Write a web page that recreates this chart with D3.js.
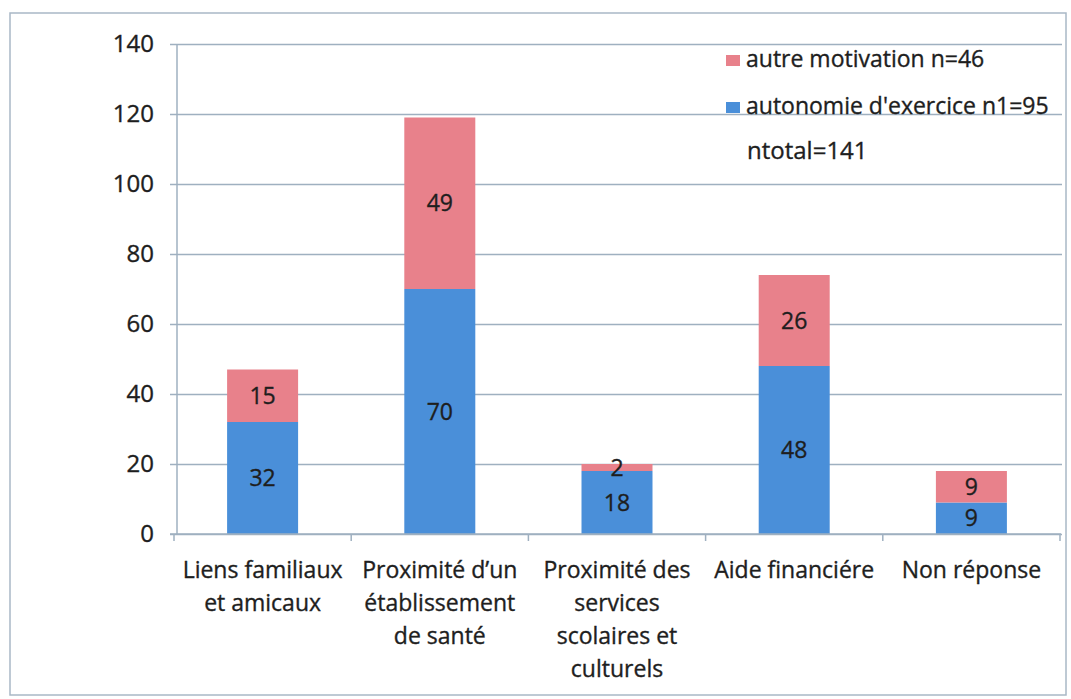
<!DOCTYPE html>
<html lang="fr">
    <head>
        <meta charset="utf-8">
        <title>Motivations</title>
        <script src="https://d3js.org/d3.v7.min.js"></script>
        <style>
            body { margin: 0; background: #fff; }
            svg#chart { font-family: "Open Sans", sans-serif; }
            svg#chart text { stroke: #1e1e1e; stroke-width: 0.35px; }
        </style>
    </head>
    <body>
        <svg id="chart" width="1071" height="699"></svg>
        <script type="text/javascript">
            // data
            const categories = [
                ["Liens familiaux", "et amicaux"],
                ["Proximité d’un", "établissement", "de santé"],
                ["Proximité des", "services", "scolaires et", "culturels"],
                ["Aide financiére"],
                ["Non réponse"]
            ];
            const autonomie = [32, 70, 18, 48, 9];
            const autre = [15, 49, 2, 26, 9];
            const legendLabels = ["autre motivation n=46", "autonomie d'exercice n1=95"];
            const noteText = "ntotal=141";
            const yTicks = [0, 20, 40, 60, 80, 100, 120, 140];

            const blue = "#4a8fd9";
            const pink = "#e8818b";
            const gridColor = "#9fb0c0";

            var svg = d3.select('#chart');

            // outer frame of the scanned chart
            svg.append("rect")
                .attr("x", 10).attr("y", 13)
                .attr("width", 1056).attr("height", 682)
                .attr("fill", "none").attr("stroke", "#a9b8c6").attr("stroke-width", 1.5);

            let rows = categories.map(function(c, i){
                return {key: i, autonomie: autonomie[i], autre: autre[i]};
            });

            let x = d3.scaleBand().domain(d3.range(categories.length)).range([174, 1060]).paddingInner(0).paddingOuter(0);
            let y = d3.scaleLinear().domain([0, 140]).range([534, 44]);

            // gridlines
            let yAxis = d3.axisLeft(y).tickValues(yTicks).tickSize(-(1062 - 170)).tickPadding(16);
            let gy = svg.append("g")
                .attr("transform", "translate(170,0)")
                .call(yAxis);
            gy.select(".domain").remove();
            gy.selectAll(".tick line").attr("stroke", gridColor).attr("stroke-width", 1.5);
            gy.selectAll(".tick text")
                .attr("font-size", 24).attr("fill", "#1e1e1e")
                .attr("font-family", "Open Sans, sans-serif");

            // y axis line
            svg.append("line")
                .attr("x1", 177).attr("x2", 177)
                .attr("y1", y(140)).attr("y2", y(0))
                .attr("stroke", gridColor).attr("stroke-width", 1.5);

            // stacked bars
            let stack = d3.stack().keys(["autonomie", "autre"]);
            let series = stack(rows);
            let colors = {autonomie: blue, autre: pink};
            let bw = 71;

            let layers = svg.selectAll("g.layer").data(series).enter()
                .append("g").attr("class", "layer")
                .attr("fill", function(d){ return colors[d.key]; });

            layers.selectAll("rect").data(function(d){ return d; }).enter()
                .append("rect")
                .attr("x", function(d, i){ return x(i) + x.bandwidth() / 2 - bw / 2; })
                .attr("width", bw)
                .attr("y", function(d){ return y(d[1]); })
                .attr("height", function(d){ return y(d[0]) - y(d[1]); });

            layers.selectAll("text").data(function(d){ return d.map(function(v){ return {v: v, key: d.key}; }); }).enter()
                .append("text")
                .attr("x", function(d, i){ return x(i) + x.bandwidth() / 2; })
                .attr("y", function(d){ return (y(d.v[0]) + y(d.v[1])) / 2 + 8; })
                .attr("text-anchor", "middle")
                .attr("font-size", 23)
                .attr("fill", "#1e1e1e")
                .text(function(d){ return d.v.data[d.key]; });

            // x axis
            let xAxisLine = svg.append("g");
            xAxisLine.append("line")
                .attr("x1", 170).attr("x2", 1061)
                .attr("y1", y(0)).attr("y2", y(0))
                .attr("stroke", gridColor).attr("stroke-width", 1.5);
            let tickXs = d3.range(categories.length + 1).map(function(i){ return 174 + i * x.step(); });
            xAxisLine.selectAll("line.tk").data(tickXs).enter()
                .append("line").attr("class", "tk")
                .attr("x1", function(d){ return d; }).attr("x2", function(d){ return d; })
                .attr("y1", y(0)).attr("y2", y(0) + 7)
                .attr("stroke", gridColor).attr("stroke-width", 1.5);

            // category labels
            let catLabels = svg.selectAll("text.cat").data(categories).enter()
                .append("text").attr("class", "cat")
                .attr("text-anchor", "middle")
                .attr("font-size", 23)
                .attr("fill", "#1e1e1e");
            catLabels.selectAll("tspan").data(function(d, i){ return d.map(function(l){ return {l: l, i: i}; }); }).enter()
                .append("tspan")
                .attr("x", function(d){ return x(d.i) + x.bandwidth() / 2; })
                .attr("y", function(d, j){ return 578 + j * 33; })
                .text(function(d){ return d.l; });

            // legend
            let legend = svg.append("g").attr("id", "legend");
            let legendColors = [pink, blue];
            legendLabels.forEach(function(lbl, i){
                let yy = 67 + i * 47;
                legend.append("rect")
                    .attr("x", 726).attr("y", yy - 12)
                    .attr("width", 14).attr("height", 11)
                    .attr("fill", legendColors[i]);
                legend.append("text")
                    .attr("x", 746).attr("y", yy)
                    .attr("font-size", 23).attr("fill", "#1e1e1e")
                    .text(lbl);
            });
            legend.append("text")
                .attr("x", 747).attr("y", 159)
                .attr("font-size", 24).attr("fill", "#1e1e1e")
                .text(noteText);
        </script>
    </body>
</html>
